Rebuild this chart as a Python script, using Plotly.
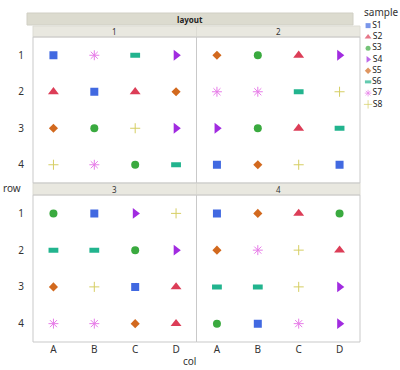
import plotly.graph_objects as go

# ---- data ----
cols = ["A", "B", "C", "D"]
rows = ["1", "2", "3", "4"]
layouts = ["1", "2", "3", "4"]
samples = ["S1", "S2", "S3", "S4", "S5", "S6", "S7", "S8"]

panel1 = [["S1", "S7", "S6", "S4"],
          ["S2", "S1", "S2", "S5"],
          ["S5", "S3", "S8", "S4"],
          ["S8", "S7", "S3", "S6"]]
panel2 = [["S5", "S3", "S2", "S4"],
          ["S7", "S7", "S6", "S8"],
          ["S4", "S3", "S2", "S6"],
          ["S1", "S5", "S8", "S1"]]
panel3 = [["S3", "S1", "S4", "S8"],
          ["S6", "S6", "S3", "S4"],
          ["S5", "S8", "S1", "S2"],
          ["S7", "S7", "S5", "S2"]]
panel4 = [["S1", "S5", "S2", "S3"],
          ["S5", "S7", "S8", "S2"],
          ["S6", "S6", "S8", "S4"],
          ["S3", "S1", "S7", "S4"]]
panels = [panel1, panel2, panel3, panel4]

# ---- styles ----
colors = {"S1": "#4169E1", "S2": "#DC3D57", "S3": "#3AAA3F", "S4": "#A12BE0",
          "S5": "#D2691E", "S6": "#22B48E", "S7": "#E77CE8", "S8": "#D6CE63"}
symbols = {"S1": "square", "S2": "triangle-up", "S3": "circle", "S4": "triangle-right",
           "S5": "diamond", "S6": "line-ew", "S7": "asterisk-open", "S8": "cross-thin-open"}
sizes = {"S1": 8, "S2": 9.5, "S3": 8, "S4": 9.5, "S5": 7, "S6": 7, "S7": 8.3, "S8": 7.2}
lwidth = {"S1": 0, "S2": 0, "S3": 0, "S4": 0, "S5": 0, "S6": 5, "S7": 1, "S8": 1}
lsizes = {"S1": 5, "S2": 6, "S3": 5, "S4": 6, "S5": 5, "S6": 4.5, "S7": 5.5, "S8": 6}
lwidth_leg = {"S1": 0, "S2": 0, "S3": 0, "S4": 0, "S5": 0, "S6": 3, "S7": 1, "S8": 1}

W, H = 400, 370
def px(x): return x / W
def py(y): return 1 - y / H

# panel boxes in pixels (x0, x1, y0, y1) of plot area
boxes = [(33, 196.5, 37, 183), (196.5, 360, 37, 183),
         (33, 196.5, 195, 342), (196.5, 360, 195, 342)]
strips = [(33, 196.5, 26, 37), (196.5, 360, 26, 37),
          (33, 196.5, 183, 195), (196.5, 360, 183, 195)]

fig = go.Figure()
FONT = "Noto Sans"
tick_font = dict(family=FONT, size=10, color="#333333")

for i, (grid, lay) in enumerate(zip(panels, layouts)):
    k = i + 1
    xs, ys, ss = [], [], []
    for r, rowvals in zip(rows, grid):
        for c, s in zip(cols, rowvals):
            xs.append(c); ys.append(r); ss.append(s)
    for s in samples:
        px_ = [x for x, t in zip(xs, ss) if t == s]
        py_ = [y for y, t in zip(ys, ss) if t == s]
        if not px_:
            continue
        fig.add_trace(go.Scatter(
            x=px_, y=py_, mode="markers", name=s, legendgroup=s, showlegend=False,
            xaxis="x" if k == 1 else f"x{k}", yaxis="y" if k == 1 else f"y{k}",
            marker=dict(symbol=symbols[s], size=sizes[s], color=colors[s],
                        line=dict(color=colors[s], width=lwidth[s])),
            hoverinfo="x+y+name"))
    x0, x1, y0, y1 = boxes[i]
    xa = dict(domain=[px(x0), px(x1)], type="category", categoryorder="array",
              categoryarray=cols, range=[-0.5, 3.5], showgrid=False, zeroline=False,
              showline=False, ticks="", tickfont=tick_font,
              showticklabels=(k in (3, 4)), anchor="y" if k == 1 else f"y{k}",
              fixedrange=True)
    ya = dict(domain=[py(y1), py(y0)], type="category", categoryorder="array",
              categoryarray=rows, range=[3.5, -0.5], showgrid=False, zeroline=False,
              showline=False, ticks="", tickfont=tick_font,
              showticklabels=(k in (1, 3)), anchor="x" if k == 1 else f"x{k}",
              fixedrange=True, ticklabelstandoff=8)
    fig.update_layout(**{("xaxis" if k == 1 else f"xaxis{k}"): xa,
                         ("yaxis" if k == 1 else f"yaxis{k}"): ya})

# legend drawn on its own axis
fig.add_trace(go.Scatter(
    x=[0.16] * len(samples), y=list(range(1, len(samples) + 1)),
    mode="markers+text", text=samples, textposition="middle right",
    textfont=dict(family=FONT, size=8.5, color="#222222"),
    marker=dict(symbol=[symbols[s] for s in samples], size=[lsizes[s] for s in samples],
                color=[colors[s] for s in samples],
                line=dict(color=[colors[s] for s in samples],
                          width=[lwidth_leg[s] for s in samples])),
    xaxis="x5", yaxis="y5", showlegend=False, hoverinfo="text"))
fig.update_layout(
    xaxis5=dict(domain=[px(362), 1], range=[0, 1], visible=False, anchor="y5", fixedrange=True),
    yaxis5=dict(domain=[py(110), py(20)], range=[8.5, 0.5], visible=False, anchor="x5", fixedrange=True))

shapes = []
# outer strip
shapes.append(dict(type="rect", xref="paper", yref="paper", x0=px(27), x1=px(353),
                   y0=py(25), y1=py(13), fillcolor="#DCDBCF", line=dict(color="#D0CFC4", width=1),
                   layer="below"))
for (x0, x1, y0, y1) in strips:
    shapes.append(dict(type="rect", xref="paper", yref="paper", x0=px(x0), x1=px(x1),
                       y0=py(y1), y1=py(y0), fillcolor="#E9E8E0",
                       line=dict(color="#DDDCD4", width=1), layer="below"))
for (x0, x1, y0, y1) in boxes:
    shapes.append(dict(type="rect", xref="paper", yref="paper", x0=px(x0), x1=px(x1),
                       y0=py(y1), y1=py(y0), fillcolor="rgba(0,0,0,0)",
                       line=dict(color="#C9C9C9", width=1), layer="below"))

def note(text, x, y, size, color="#333333", xanchor="center"):
    return dict(text=text, x=px(x), y=py(y), xref="paper", yref="paper",
                xanchor=xanchor, yanchor="middle", showarrow=False,
                font=dict(family=FONT, size=size, color=color))

ann = [note("<b>layout</b>", 190, 19, 8, "#222222")]
for lay, (x0, x1, y0, y1) in zip(layouts, strips):
    ann.append(note(lay, (x0 + x1) / 2, (y0 + y1) / 2, 8))
ann.append(note("sample", 362, 12, 10, xanchor="left"))
ann.append(note("row", 1, 188, 10, xanchor="left"))
ann.append(note("col", 189, 361, 10))

fig.update_layout(width=W, height=H, margin=dict(l=0, r=0, t=0, b=0),
                  paper_bgcolor="white", plot_bgcolor="white", showlegend=False,
                  shapes=shapes, annotations=ann, font=dict(family=FONT))

fig.write_html("out.html", config={"displayModeBar": False},
               post_script="document.body.style.margin='0';document.body.style.padding='0';")
